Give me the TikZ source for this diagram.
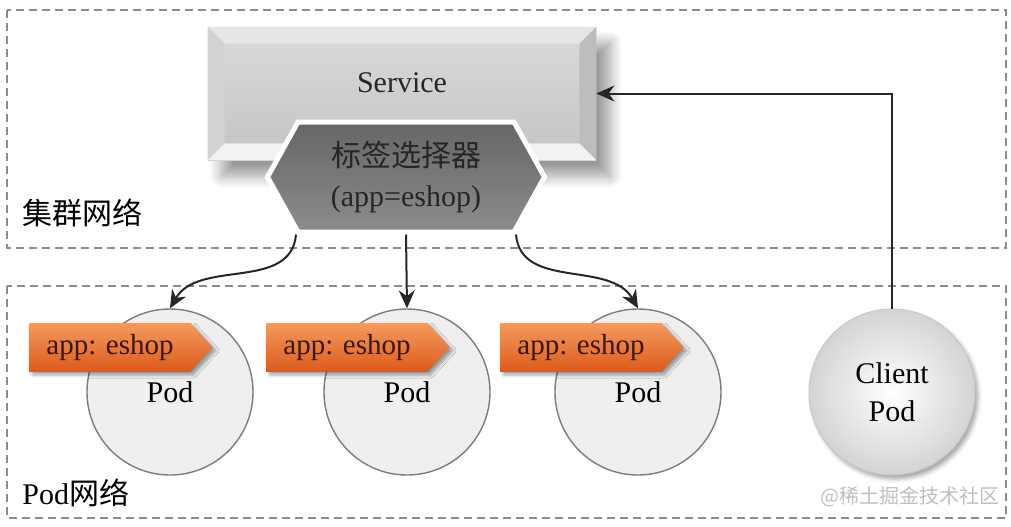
\documentclass[tikz,border=0pt]{standalone}
\usepackage{fontspec}
\setmainfont{Liberation Serif}
\newfontfamily\cjk{Noto Sans CJK SC}
\usetikzlibrary{positioning, calc, arrows.meta, shapes.symbols, shadows.blur}
\definecolor{zoneGray}{HTML}{8C8C8C}
\definecolor{svcTop}{HTML}{DADADA}
\definecolor{svcBot}{HTML}{C4C4C4}
\definecolor{svcBevTop}{HTML}{E6E6E6}
\definecolor{svcBevLeft}{HTML}{D2D2D2}
\definecolor{svcBevRight}{HTML}{BDBDBD}
\definecolor{svcBevBot}{HTML}{F2F2F2}
\definecolor{selTop}{HTML}{666666}
\definecolor{selBot}{HTML}{8C8C8C}
\definecolor{tagTop}{HTML}{F49A5E}
\definecolor{tagBot}{HTML}{DC5A1C}
\definecolor{tagText}{HTML}{3A1606}
\definecolor{podFill}{HTML}{EFEFEF}
\definecolor{podEdge}{HTML}{7C7C7C}

\begin{document}
\begin{tikzpicture}[x=0.5pt, y=-0.5pt,
    zone/.style={draw=zoneGray, dash pattern=on 4pt off 2.5pt, line width=0.7pt},
    zonelbl/.style={anchor=west, inner sep=0pt, font=\fontsize{15pt}{18pt}\selectfont},
    svc/.style={minimum width=194pt, minimum height=66.5pt, inner sep=0pt,
        top color=svcTop, bottom color=svcBot,
        blur shadow={shadow xshift=7pt, shadow yshift=-8pt, shadow blur radius=6pt, shadow blur steps=12, shadow opacity=40}},
    sel/.style={shape=signal, signal to=east and west, signal pointer angle=122,
        minimum height=55pt, minimum width=138.5pt, inner sep=0pt, align=center,
        top color=selTop, bottom color=selBot, draw=white, line width=2.5pt, text=black!85,
        font=\fontsize{15pt}{20pt}\selectfont},
    tag/.style={shape=signal, signal to=east, signal from=nowhere, signal pointer angle=95,
        minimum height=24.5pt, inner xsep=8.5pt, inner ysep=0pt,
        top color=tagTop, bottom color=tagBot, text=tagText,
        font=\fontsize{14.5pt}{16pt}\selectfont,
        blur shadow={shadow xshift=1.5pt, shadow yshift=-1.5pt, shadow blur radius=1.5pt, shadow opacity=35}},
    pod/.style={circle, minimum size=83pt, inner sep=0pt, fill=podFill, draw=podEdge,
        line width=0.7pt, font=\fontsize{15pt}{18pt}\selectfont},
    client/.style={circle, minimum size=83pt, inner sep=0pt, align=center,
        inner color=white, outer color=black!17, draw=black!22, line width=0.5pt,
        font=\fontsize{15pt}{19pt}\selectfont,
        blur shadow={shadow xshift=1.5pt, shadow yshift=-2pt, shadow blur radius=2pt, shadow opacity=35}},
    arr/.style={-{Stealth[length=9pt, width=8pt]}, line width=1pt, black!85},
]
\useasboundingbox (0,0) rectangle (1011,526);

% networks
\draw[zone] (7,10) rectangle (1006,248);
\draw[zone] (7,286) rectangle (1006,518);
\node[zonelbl] (clusterlbl) at (22,213) {\cjk 集群网络};
\node[zonelbl] (podnetlbl) at (22,493) {Pod{\cjk 网络}};

% service with bevel
\node[svc, label={[name=svctext, yshift=5.5pt, font=\fontsize{15pt}{18pt}\selectfont, text=black!85]center:Service}] (svc) at (402,93.5) {};
\fill[svcBevTop] (svc.north west) -- (svc.north east) -- ([shift={(-17,17)}]svc.north east) -- ([shift={(17,17)}]svc.north west) -- cycle;
\fill[svcBevLeft] (svc.north west) -- ([shift={(17,17)}]svc.north west) -- ([shift={(17,-17)}]svc.south west) -- (svc.south west) -- cycle;
\fill[svcBevRight] (svc.north east) -- ([shift={(-17,17)}]svc.north east) -- ([shift={(-17,-17)}]svc.south east) -- (svc.south east) -- cycle;
\fill[svcBevBot] (svc.south west) -- ([shift={(17,-17)}]svc.south west) -- ([shift={(-17,-17)}]svc.south east) -- (svc.south east) -- cycle;

\node[sel] (sel) at (406,177) {{\cjk 标签选择器}\\(app=eshop)};

% pods
\node[pod] (pod1) at (170,392) {Pod};
\node[pod] (pod2) at (407,392) {Pod};
\node[pod] (pod3) at (638,392) {Pod};
\node[tag] (tag1) at (110,347.5) {app: eshop};
\node[tag] (tag2) at (347,347.5) {app: eshop};
\node[tag] (tag3) at (581,347.5) {app: eshop};

\node[client] (client) at (892,392) {Client\\Pod};

\draw[arr] ([xshift=-55pt]sel.south) to[out=-95, in=60] (pod1.north);
\draw[arr] (sel.south) -- (pod2.north);
\draw[arr] ([xshift=55pt]sel.south) to[out=-85, in=120] (pod3.north);
\draw[arr] (client.north) |- (svc.east);

\node[text=black!25, font=\cjk\fontsize{10pt}{12pt}\selectfont] (mark) at (910,497) {@稀土掘金技术社区};
\end{tikzpicture}
\end{document}
